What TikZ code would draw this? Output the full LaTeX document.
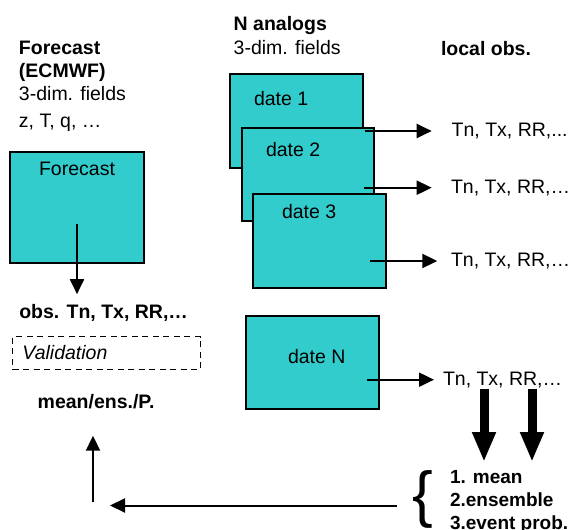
\documentclass[tikz,border=0pt]{standalone}
\usepackage{fontspec}
\setmainfont{Liberation Sans}
\usepackage{xcolor}
\usetikzlibrary{arrows.meta,positioning,calc}
\definecolor{fieldcyan}{HTML}{33CCCC}

\begin{document}
\begin{tikzpicture}[x=1pt, y=-1pt,
    fld/.style={draw, fill=fieldcyan, anchor=north west, inner sep=0pt},
    lbl/.style={inner sep=0pt, font=\fontsize{19.5}{23}\selectfont},
    blbl/.style={lbl, font=\fontsize{19.5}{23}\selectfont\bfseries},
    obs/.style={lbl, anchor=west},
    valbox/.style={draw, dash pattern=on 6pt off 4.5pt, line width=1.5pt, minimum width=188, minimum height=32.6,
                   inner xsep=10pt, text width=168pt, align=left, font=\fontsize{19.5}{23}\selectfont\itshape},
    fat/.style={line width=9pt, -{Triangle[length=30pt,width=22pt]}},
    ->, >={Triangle[length=15pt,width=14pt]}, line width=2pt
]
\useasboundingbox (0,0) rectangle (579,530);

\node[lbl, align=left, anchor=north west] (fchead) at (18,40) {\textbf{Forecast}\\\textbf{(ECMWF)}\\3-dim. fields\\[4pt]z, T, q, …};
\node[lbl, align=left, anchor=north west, font=\fontsize{19.5}{24}\selectfont] (anhead) at (232.7,15) {\textbf{N analogs}\\3-dim. fields};
\node[blbl, anchor=base west] (lochead) at (440,56) {local obs.};

\node[fld, minimum width=134, minimum height=111] (fcbox) at (9,151) {};
\node[lbl, below=10.5pt of fcbox.north] (fctitle) {Forecast};

\node[fld, minimum width=133, minimum height=94] (d1) at (229,73) {};
\node[lbl, anchor=base west] (d1txt) at (253,105) {date 1};
\node[fld, minimum width=132, minimum height=93] (d2) at (241,127) {};
\node[lbl, anchor=base west] (d2txt) at (265,156) {date 2};
\node[fld, minimum width=133, minimum height=94] (d3) at (252,193) {};
\node[lbl, anchor=base west] (d3txt) at (281,218) {date 3};
\node[fld, minimum width=133, minimum height=93] (dN) at (245,315) {};
\node[lbl, anchor=base west] (dNtxt) at (287,363) {date N};

\node[obs] (o1) at (450.7,131) {Tn, Tx, RR,...};
\node[obs] (o2) at (450,187.7) {Tn, Tx, RR,…};
\node[obs] (o3) at (450,261) {Tn, Tx, RR,…};
\node[obs] (oN) at (442,379.7) {Tn, Tx, RR,…};

\draw ([xshift=-10.3pt]d2.east |- o1.west) -- ([xshift=-19pt]o1.west);
\draw ([xshift=-11pt]d2.east |- o2.west) -- ([xshift=-18.3pt]o2.west);
\draw ([xshift=-16.7pt]d3.east |- o3.west) -- ([xshift=-12.7pt]o3.west);
\draw ([xshift=-13.3pt]dN.east |- oN.west) -- ([xshift=-8pt]oN.west);

\node[blbl, anchor=base west] (obshead) at (18.3,318.3) {obs. Tn, Tx, RR,…};
\node[valbox] (valid) at (106.5,353) {Validation};
\node[blbl, anchor=base west] (meanp) at (36.7,408.3) {mean/ens./P.};

\draw ([yshift=-16.5pt]fcbox.center) -- ([yshift=9pt]fcbox.center |- obshead.north);

\node[inner sep=0pt, font=\fontsize{62}{62}\selectfont] (brace) at (423,499) {\{};
\node[blbl, align=left, anchor=north west, font=\fontsize{19}{23}\selectfont\bfseries] (stats) at (449,469) {1. mean\\2.ensemble\\3.event prob.};

\draw[fat] ([xshift=35pt]stats.north west |- oN.south) -- ([xshift=35pt,yshift=7pt]stats.north west);
\draw[fat] ([xshift=83pt]stats.north west |- oN.south) -- ([xshift=83pt,yshift=7pt]stats.north west);

\coordinate (backtip) at (110,505.5);
\draw ([xshift=-14.5pt]brace.west |- backtip) -- (backtip);
\coordinate (upfoot) at (93,502);
\draw (upfoot) -- ([yshift=-26pt]upfoot |- meanp.south);
\end{tikzpicture}
\end{document}
